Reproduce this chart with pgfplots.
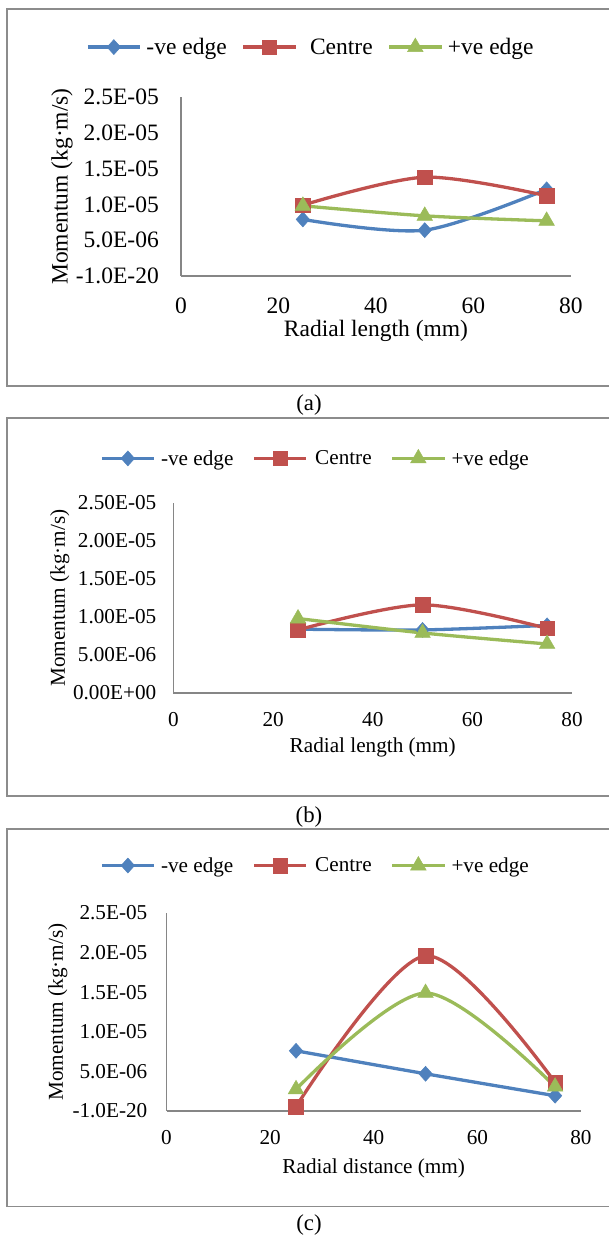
\documentclass[border=0pt]{standalone}
\usepackage{fontspec}
\setmainfont{Liberation Serif}
\usepackage{pgfplots}
\pgfplotsset{compat=1.18}

\definecolor{negedge}{RGB}{79,129,189}
\definecolor{centre}{RGB}{192,80,77}
\definecolor{posedge}{RGB}{155,187,89}
\definecolor{axgray}{RGB}{134,134,134}
\definecolor{framegray}{RGB}{140,140,140}

\pgfplotsset{
  panel/.style={
    scale only axis, anchor=south west,
    xmin=0, xmax=80, ymin=0, ymax=2.5e-5,
    axis x line*=bottom, axis y line*=left,
    axis line style={draw=axgray, line width=1.5pt},
    tick style={draw=none}, major tick length=0pt,
    xtick={0,20,40,60,80}, xticklabels={0,20,40,60,80},
    ytick={0,5e-6,1e-5,1.5e-5,2e-5,2.5e-5},
    scaled y ticks=false,
    clip=false,
    legend columns=3,
    legend image code/.code={
      \draw[mark repeat=2,mark phase=2,#1] plot coordinates {(0pt,0pt) (26pt,0pt) (52pt,0pt)};
    },
    every axis plot/.append style={line width=3.3pt, smooth},
  },
  neg/.style={color=negedge, mark=diamond*, mark size=7.5pt,
    mark options={solid, xscale=1.2, line width=0.5pt}},
  cen/.style={color=centre, mark=square*, mark size=7.3pt,
    mark options={solid, line width=0.5pt}},
  pos/.style={color=posedge, mark=triangle*, mark size=9pt,
    mark options={solid, line width=0.5pt}},
}

\begin{document}
\begin{tikzpicture}[x=1pt,y=1pt]
\useasboundingbox (0,0) rectangle (609,1237);

% frames round the three panels (right side runs off the page)
\draw[framegray, line width=1.6pt] (612,1228) -- (7,1228) -- (7,851) -- (612,851);
\draw[framegray, line width=1.6pt] (612,818.7) -- (7,818.7) -- (7,441) -- (612,441);
\draw[framegray, line width=1.6pt] (612,408) -- (7,408) -- (7,30.3) -- (612,30.3);

\node[font=\fontsize{22.8}{27}\selectfont] at (309,832) {(a)};
\node[font=\fontsize{22.8}{27}\selectfont] at (309,420.3) {(b)};
\node[font=\fontsize{22.8}{27}\selectfont] at (309,12) {(c)};

% (a)
\begin{axis}[panel,
  at={(181pt,961pt)}, width=390pt, height=179pt,
  yticklabels={-1.0E-20,5.0E-06,1.0E-05,1.5E-05,2.0E-05,2.5E-05},
  tick label style={font=\fontsize{23.5}{28}\selectfont},
  label style={font=\fontsize{23.5}{28}\selectfont},
  yticklabel style={anchor=east, inner sep=0pt, xshift=-22pt},
  xticklabel style={anchor=north, inner sep=0pt, yshift=-22pt},
  xlabel={Radial length (mm)},
  ylabel={Momentum (kg·m/s)},
  xlabel style={at={(axis description cs:0.5,-0.307)}, anchor=center},
  ylabel style={at={(axis description cs:-0.305,0.5)}, anchor=center},
  legend style={at={(axis description cs:-0.2436,1.279)}, anchor=west,
    draw=none, fill=none, inner sep=0pt, nodes={inner sep=0pt},
    font=\fontsize{23.5}{28}\selectfont,
    /tikz/every odd column/.append style={column sep=5pt},
    /tikz/every even column/.append style={column sep=15pt}},
]
\addplot[neg] coordinates {(25,7.9e-6) (50,6.4e-6) (75,1.21e-5)};
\addlegendentry{-ve edge\hspace{13pt}}
\addplot[cen] coordinates {(25,9.9e-6) (50,1.38e-5) (75,1.12e-5)};
\addlegendentry{\hspace{8pt}Centre}
\addplot[pos] coordinates {(25,9.8e-6) (50,8.4e-6) (75,7.7e-6)};
\addlegendentry{+ve edge}
\end{axis}

% (b)
\begin{axis}[panel,
  at={(173.5pt,544pt)}, width=398.5pt, height=190pt,
  yticklabels={0.00E+00,5.00E-06,1.00E-05,1.50E-05,2.00E-05,2.50E-05},
  tick label style={font=\fontsize{21.2}{25}\selectfont},
  label style={font=\fontsize{21.2}{25}\selectfont},
  yticklabel style={anchor=east, inner sep=0pt, xshift=-17pt},
  xticklabel style={anchor=north, inner sep=0pt, yshift=-19pt},
  xlabel={Radial length (mm)},
  ylabel={Momentum (kg·m/s)},
  xlabel style={at={(axis description cs:0.5,-0.284)}, anchor=center},
  ylabel style={at={(axis description cs:-0.285,0.5)}, anchor=center},
  legend style={at={(axis description cs:-0.1844,1.237)}, anchor=west,
    draw=none, fill=none, inner sep=0pt, nodes={inner sep=0pt},
    font=\fontsize{21.2}{25}\selectfont,
    /tikz/every odd column/.append style={column sep=5.5pt},
    /tikz/every even column/.append style={column sep=19pt}},
]
\addplot[neg] coordinates {(25,8.4e-6) (50,8.3e-6) (75,8.9e-6)};
\addlegendentry{-ve edge\hspace{8pt}}
\addplot[cen] coordinates {(25,8.3e-6) (50,1.16e-5) (75,8.5e-6)};
\addlegendentry{\hspace{2pt}Centre}
\addplot[pos] coordinates {(25,9.8e-6) (50,7.9e-6) (75,6.45e-6)};
\addlegendentry{+ve edge}
\end{axis}

% (c)
\begin{axis}[panel,
  at={(166.5pt,126pt)}, width=414.5pt, height=198pt,
  yticklabels={-1.0E-20,5.0E-06,1.0E-05,1.5E-05,2.0E-05,2.5E-05},
  tick label style={font=\fontsize{21.2}{25}\selectfont},
  label style={font=\fontsize{21.2}{25}\selectfont},
  yticklabel style={anchor=east, inner sep=0pt, xshift=-19pt},
  xticklabel style={anchor=north, inner sep=0pt, yshift=-19pt},
  xlabel={Radial distance (mm)},
  ylabel={Momentum (kg·m/s)},
  xlabel style={at={(axis description cs:0.5,-0.288)}, anchor=center},
  ylabel style={at={(axis description cs:-0.262,0.5)}, anchor=center},
  legend style={at={(axis description cs:-0.1604,1.242)}, anchor=west,
    draw=none, fill=none, inner sep=0pt, nodes={inner sep=0pt},
    font=\fontsize{21.2}{25}\selectfont,
    /tikz/every odd column/.append style={column sep=5.5pt},
    /tikz/every even column/.append style={column sep=19pt}},
]
\addplot[neg] coordinates {(25,7.6e-6) (50,4.7e-6) (75,1.93e-6)};
\addlegendentry{-ve edge\hspace{8pt}}
\addplot[cen] coordinates {(25,0.55e-6) (50,1.96e-5) (75,3.6e-6)};
\addlegendentry{\hspace{2pt}Centre}
\addplot[pos] coordinates {(25,2.74e-6) (50,1.49e-5) (75,3.07e-6)};
\addlegendentry{+ve edge}
\end{axis}
\end{tikzpicture}
\end{document}
